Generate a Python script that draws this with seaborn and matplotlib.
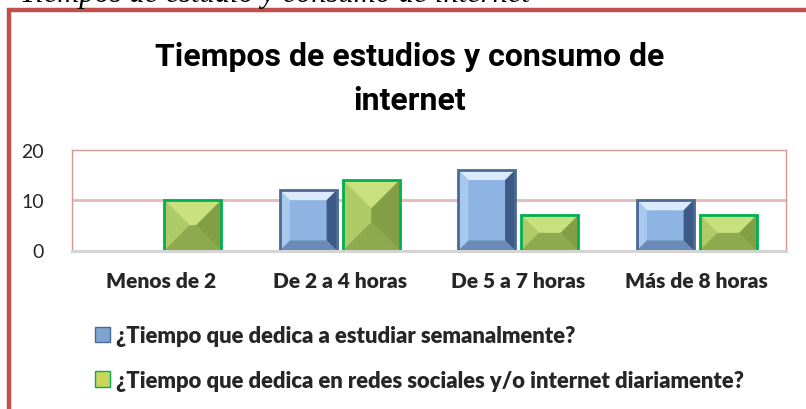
import matplotlib
matplotlib.use("Agg")
import matplotlib.pyplot as plt
import seaborn as sns
import pandas as pd
from matplotlib.patches import Polygon, Rectangle
from matplotlib import font_manager

categories = ["Menos de 2", "De 2 a 4 horas", "De 5 a 7 horas", "Más de 8 horas"]
series_names = ["¿Tiempo que dedica a estudiar semanalmente?",
                "¿Tiempo que dedica en redes sociales y/o internet diariamente?"]
estudio = [0, 12, 16, 10]
internet = [10, 14, 7, 7]
yticks = [0, 10, 20]

df = pd.DataFrame({
    "cat": categories * 2,
    "serie": [series_names[0]] * 4 + [series_names[1]] * 4,
    "val": estudio + internet,
})

sns.set_theme(style="white")
fl = font_manager.fontManager.ttflist
names = {f.name for f in fl}
bold_font = "Lato" if "Lato" in names else "DejaVu Sans"
body_font = "Lato" if "Lato" in names else "DejaVu Sans"
title_font = "Roboto" if "Roboto" in names else "DejaVu Sans"
plt.rcParams["font.family"] = [body_font, "DejaVu Sans"]

fig = plt.figure(figsize=(8.06, 4.10), dpi=100)
ax = fig.add_axes([72 / 806, (410 - 251.5) / 410, 714 / 806, 100.5 / 410])

blue_fill, green_fill = "#8DB4E2", "#9BBB59"
sns.barplot(data=df, x="cat", y="val", hue="serie", order=categories,
            hue_order=series_names, palette=[blue_fill, green_fill], saturation=1,
            width=0.706, gap=0.1, ax=ax, legend=True)

ax.set_ylim(0, 20)
ax.set_yticks(yticks)
ax.set_xlim(-0.5, 3.5)
ax.set_xlabel("")
ax.set_ylabel("")
ax.tick_params(axis="y", length=0, pad=20, labelsize=14)
ax.tick_params(axis="x", length=0, pad=15)
for lab in ax.get_xticklabels():
    lab.set_fontweight("heavy")
    lab.set_family([bold_font, "DejaVu Sans"])
    lab.set_fontsize(15)
for side in ["left", "top", "right"]:
    ax.spines[side].set_color("#D99694")
    ax.spines[side].set_linewidth(1.0)
ax.spines["bottom"].set_color("#D4D4D4")
ax.spines["bottom"].set_linewidth(2.2)
ax.axhline(10, color="#E6B9B8", lw=2, zorder=0)

# bevel effect on bars
px_x = 714 / 4.0
px_y = 100.5 / 20.0
styles = [
    dict(edge="#4A6A94", top="#DCEBFB", left="#A9C8EE", right="#3C5A85", bottom="#6A8BB8", depth=10, pyramid=False),
    dict(edge="#00B050", top="#C9E07E", left="#AECB68", right="#839F45", bottom="#8EAA4E", depth=None, pyramid=True),
]
for cont, st in zip(ax.containers, styles):
    for p in cont.patches:
        h = p.get_height()
        if h <= 0:
            continue
        x0, y0, w = p.get_x(), p.get_y(), p.get_width()
        x1, y1 = x0 + w, y0 + h
        if st["pyramid"]:
            dpx = min(w * px_x, h * px_y) / 2.0
        else:
            dpx = st["depth"]
        dx, dy = dpx / px_x, dpx / px_y
        ix0, ix1, iy0, iy1 = x0 + dx, x1 - dx, y0 + dy, y1 - dy
        polys = [
            ([(x0, y1), (x1, y1), (ix1, iy1), (ix0, iy1)], st["top"]),
            ([(x0, y0), (x0, y1), (ix0, iy1), (ix0, iy0)], st["left"]),
            ([(x1, y0), (x1, y1), (ix1, iy1), (ix1, iy0)], st["right"]),
            ([(x0, y0), (x1, y0), (ix1, iy0), (ix0, iy0)], st["bottom"]),
        ]
        for pts, col in polys:
            ax.add_patch(Polygon(pts, closed=True, facecolor=col, edgecolor="none", zorder=p.get_zorder() + 0.1))
        ax.add_patch(Rectangle((x0, y0), w, h, facecolor="none", edgecolor=st["edge"], lw=2, zorder=p.get_zorder() + 0.2))

handles, labels = ax.get_legend_handles_labels()
ax.get_legend().remove()
for hd, col in zip(handles, [("#4A6A94", "#7FA3D3"), ("#00B050", "#C9D65A")]):
    hd.set_edgecolor(col[0])
    hd.set_facecolor(col[1])
    hd.set_linewidth(1)
fig.legend(handles, labels, loc="upper left", bbox_to_anchor=(84 / 806, 1 - 315 / 410),
           frameon=False, prop={"weight": "heavy", "size": 15.8, "family": [bold_font, "DejaVu Sans"]},
           labelspacing=1.08, handlelength=0.7, handleheight=0.7, handletextpad=0.25, borderpad=0)

# title (condensed bold)
for txt, yy in [("Tiempos de estudios y consumo de", 57), ("internet", 101)]:
    fig.text(410 / 806, 1 - yy / 410, txt, ha="center", va="center",
             fontsize=23, fontweight="bold", family=[title_font, "DejaVu Sans"], color="black")

# outer chart border (extends beyond the image)
fig.patches.append(Rectangle((8.5 / 806, -0.2), 1.2, 1 - 11 / 410 + 0.2, transform=fig.transFigure,
                             facecolor="none", edgecolor="#C0504D", lw=3.2, zorder=0))

# cut-off caption at the top
fig.text(20 / 806, 1 - 2 / 410, "Tiempos de estudio y consumo de internet", ha="left", va="baseline",
         fontsize=22, style="italic", family=["Liberation Serif", "DejaVu Serif"], color="black")

fig.savefig("out.png", dpi=100)
